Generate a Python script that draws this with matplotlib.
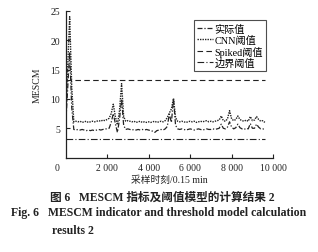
import numpy as np
from matplotlib import pyplot as plt

plt.rcParams['font.family'] = ['Liberation Serif', 'Noto Sans CJK SC']

# sampling moments, one value every 100 samples
t = np.arange(0, 9700, 100)

cnn = [6.0, 15.0, 24.0, 12.0, 6.1, 6.2, 6.1, 6.2, 6.0, 6.1,
       6.2, 6.0, 6.1, 6.2, 6.1, 6.2, 6.3, 6.2, 6.4, 6.3,
       6.5, 6.7, 7.5, 9.1, 7.0, 5.6, 8.0, 12.6, 7.0, 6.2,
       6.3, 6.2, 6.1, 6.2, 6.0, 6.1, 6.2, 6.0, 6.1, 6.0,
       6.1, 6.0, 6.1, 6.2, 6.0, 6.1, 6.2, 6.1, 6.3, 6.8,
       7.6, 8.3, 10.1, 6.8, 6.2, 6.1, 6.2, 6.1, 6.0, 6.1,
       6.2, 6.1, 6.2, 6.0, 6.1, 6.2, 6.1, 6.2, 6.3, 6.1,
       6.2, 6.1, 6.2, 6.3, 6.4, 7.1, 6.3, 6.2, 6.6, 8.0,
       6.6, 6.3, 6.5, 7.1, 6.5, 6.3, 6.2, 6.4, 6.2, 7.0,
       6.3, 6.4, 7.0, 6.5, 6.2, 6.3, 6.0]

actual = [5.0, 11.5, 18.0, 8.5, 4.8, 4.7, 4.8, 4.7, 4.8, 4.7,
          4.6, 4.7, 4.6, 4.7, 4.6, 4.7, 4.8, 4.7, 4.8, 4.9,
          4.9, 5.0, 6.0, 7.5, 5.8, 4.3, 6.5, 10.0, 5.5, 4.8,
          4.9, 4.8, 4.7, 4.8, 4.7, 4.8, 4.7, 4.8, 4.7, 4.8,
          4.7, 4.6, 4.5, 4.3, 4.6, 4.7, 4.8, 4.7, 4.9, 5.3,
          7.4, 6.0, 10.0, 5.5, 4.9, 4.8, 4.9, 4.8, 4.7, 4.8,
          4.9, 4.8, 4.7, 4.8, 4.9, 4.8, 4.7, 4.8, 4.9, 4.8,
          4.8, 4.9, 4.8, 4.9, 5.0, 5.7, 5.0, 4.9, 5.2, 6.1,
          5.2, 4.9, 5.1, 5.7, 5.1, 4.9, 4.8, 5.0, 4.9, 5.8,
          5.0, 5.0, 5.7, 5.2, 4.9, 4.9, 4.8]

spiked = 13.2
boundary = 3.2

xticks = [2000, 4000, 6000, 8000, 10000]
xticklabels = ['2 000', '4 000', '6 000', '8 000', '10 000']
yticks = [5, 10, 15, 20, 25]

c = '#222222'
fig = plt.figure(figsize=(3.18, 2.53), dpi=100)
ax = fig.add_axes([0.206, 0.373, 0.653, 0.580])

ax.plot(t, actual, color=c, lw=0.9, ls=(0, (4, 1.5, 1, 1.5)), label='实际值')
ax.plot(t, cnn, color=c, lw=1.0, ls=(0, (1, 0.8)), label='CNN阈值')
ax.plot([t[0], t[-1]], [spiked, spiked], color=c, lw=0.8, ls=(0, (5, 3)), label='Spiked阈值')
ax.plot([t[0], t[-1]], [boundary, boundary], color=c, lw=0.8, ls=(0, (6, 2, 1, 2)), label='边界阈值')

ax.set_xlim(0, 10000)
ax.set_ylim(0, 25)
ax.set_xticks(xticks)
ax.set_xticklabels(xticklabels)
ax.set_yticks(yticks)
ax.tick_params(direction='in', length=3, width=0.8, labelsize=7, colors=c, pad=4)
for s in ['top', 'right']:
    ax.spines[s].set_visible(False)
for s in ['left', 'bottom']:
    ax.spines[s].set_linewidth(0.9)
    ax.spines[s].set_color(c)
ax.text(-0.03, -0.035, '0', transform=ax.transAxes, fontsize=7, color=c, ha='right', va='top')

ax.set_xlabel('采样时刻/0.15 min', fontsize=7, color=c, labelpad=2)
ax.set_ylabel('MESCM', fontsize=7, color=c, labelpad=6)

leg = ax.legend(loc='upper right', bbox_to_anchor=(0.965, 0.935), fontsize=7.3, frameon=True,
                fancybox=False, handlelength=1.6, handletextpad=0.1, labelspacing=0.1,
                borderpad=0.3, borderaxespad=0)
leg.get_frame().set_edgecolor(c)
leg.get_frame().set_linewidth(0.8)

fig.text(0.51, 0.218, '图 6   MESCM 指标及阈值模型的计算结果 2', fontsize=8.4,
         fontweight='bold', ha='center', va='center', color=c)
fig.text(0.035, 0.158, 'Fig. 6   MESCM indicator and threshold model calculation', fontsize=8.5,
         fontweight='bold', ha='left', va='center', color=c)
fig.text(0.163, 0.085, 'results 2', fontsize=8.5, fontweight='bold', ha='left', va='center', color=c)

fig.savefig('out.png', dpi=100)
